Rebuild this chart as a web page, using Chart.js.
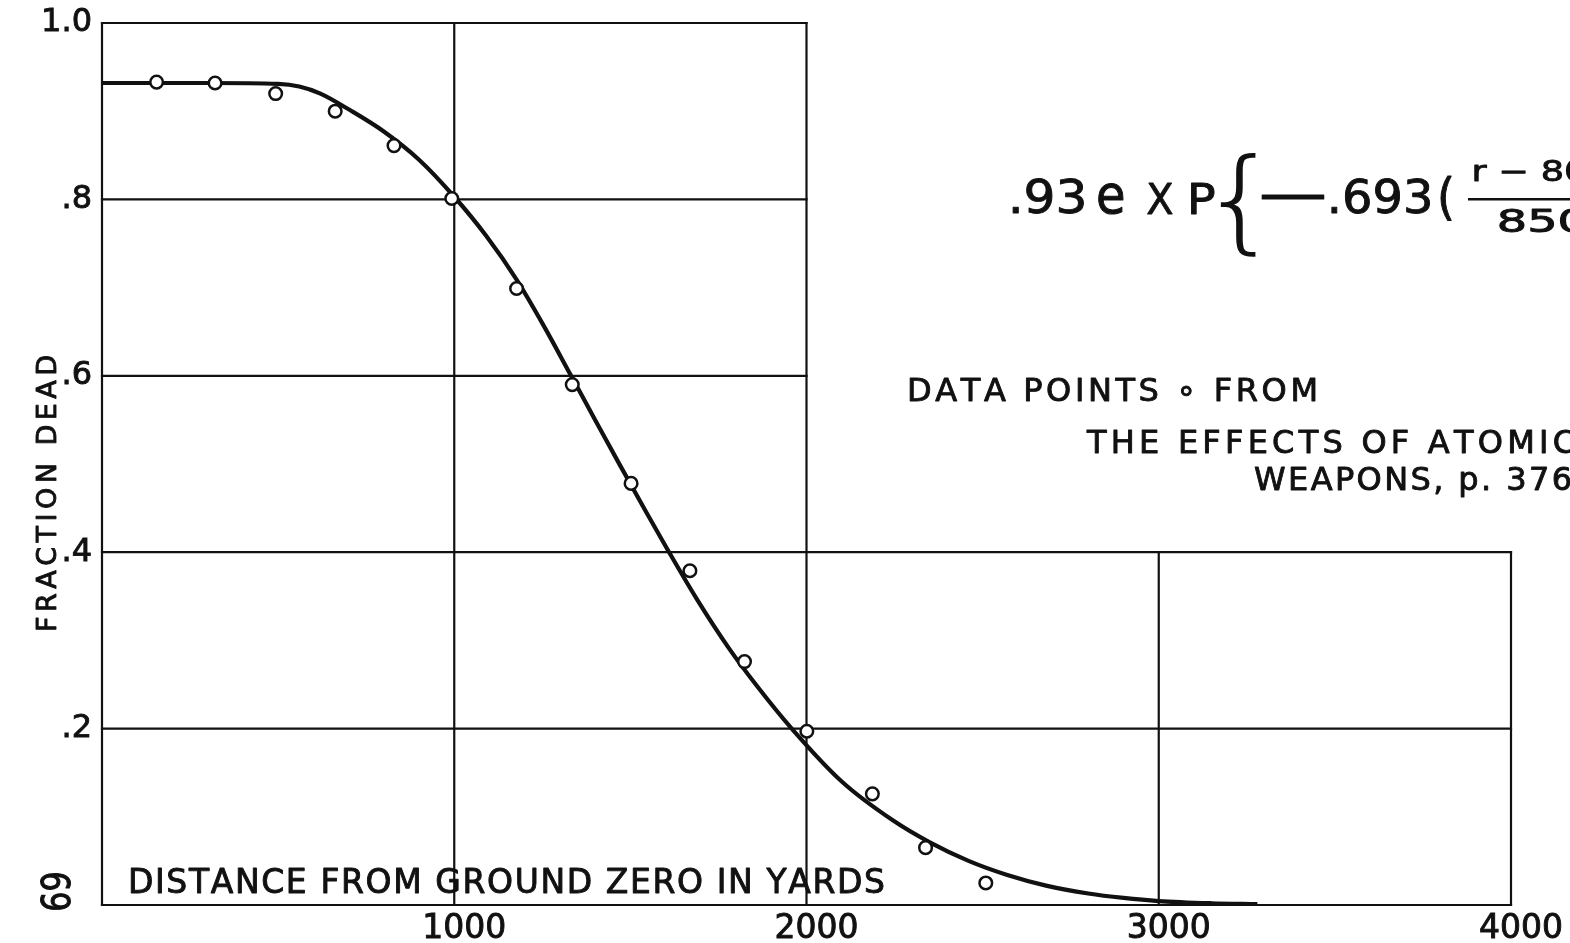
<!DOCTYPE html>
<html>
<head>
<meta charset="utf-8">
<script src="https://cdn.jsdelivr.net/npm/chart.js@4.4.1/dist/chart.umd.min.js"></script>
<style>
  html, body { margin: 0; padding: 0; background: #ffffff; }
  #wrap { width: 1570px; height: 943px; position: relative; }
</style>
</head>
<body>
<div id="wrap"><canvas id="c"></canvas></div>
<script>
// ---- data ----
const curveYards    = [0, 300, 500, 560, 620, 705, 800, 900, 1000, 1090, 1177, 1255, 1329, 1400, 1470, 1540, 1607, 1690, 1780, 1860, 1958, 2100, 2245, 2350, 2460, 2570, 2680, 2800, 2900, 3000, 3150, 3280];
const curveFraction = [0.932, 0.932, 0.931, 0.928, 0.920, 0.901, 0.877, 0.845, 0.803, 0.759, 0.709, 0.656, 0.602, 0.550, 0.499, 0.449, 0.402, 0.346, 0.291, 0.248, 0.200, 0.140, 0.096, 0.071, 0.050, 0.034, 0.022, 0.013, 0.008, 0.0045, 0.002, 0.001];

const pointYards    = [155, 321, 493, 662, 829, 993, 1177, 1335, 1502, 1669, 1824, 2001, 2187, 2338, 2509];
const pointFraction = [0.933, 0.932, 0.920, 0.900, 0.861, 0.801, 0.699, 0.590, 0.478, 0.379, 0.276, 0.197, 0.126, 0.065, 0.025];

const xTickLabels = ['', '1000', '2000', '3000', '4000'];
const yTickLabels = ['', '.2', '.4', '.6', '.8', '1.0'];

// grid segments as drawn on the original sheet: [value, from, to]
const gridRows = [[1.0, 0, 2000], [0.8, 0, 2000], [0.6, 0, 2000], [0.4, 0, 4000], [0.2, 0, 4000], [0, 0, 4000]];
const gridCols = [[0, 0, 1.0], [1000, 0, 1.0], [2000, 0, 1.0], [3000, 0, 0.4], [4000, 0, 0.4]];

const xAxisTitle = 'DISTANCE FROM GROUND ZERO IN YARDS';
const yAxisTitle = 'FRACTION DEAD';
const pageNumber = '69';
const noteLines = ['DATA POINTS \u2218 FROM', 'THE EFFECTS OF ATOMIC', 'WEAPONS, p. 376'];

const INK = '#111111';
const FONT = "'DejaVu Sans', 'Liberation Sans', sans-serif";

// ---- text helpers ----
function spread(ctx, text, x, y, width) {
  const chars = Array.from(text);
  const ws = chars.map(c => ctx.measureText(c).width);
  const nat = ws.reduce((a, b) => a + b, 0);
  const extra = chars.length > 1 ? (width - nat) / (chars.length - 1) : 0;
  let cx = x;
  chars.forEach((c, i) => {
    ctx.fillText(c, cx, y);
    ctx.strokeText(c, cx, y);
    cx += ws[i] + extra;
  });
}
function fitBox(ctx, text, left, top, width, height, noStroke) {
  const m = ctx.measureText(text);
  const gw = m.actualBoundingBoxLeft + m.actualBoundingBoxRight;
  const gh = m.actualBoundingBoxAscent + m.actualBoundingBoxDescent;
  ctx.save();
  ctx.translate(left, top);
  ctx.scale(width / gw, height / gh);
  ctx.fillText(text, m.actualBoundingBoxLeft, m.actualBoundingBoxAscent);
  if (!noStroke) ctx.strokeText(text, m.actualBoundingBoxLeft, m.actualBoundingBoxAscent);
  ctx.restore();
}

const gridPlugin = {
  id: 'sheetGrid',
  beforeDatasetsDraw(chart) {
    const { ctx, scales: { x, y } } = chart;
    ctx.save();
    ctx.strokeStyle = INK;
    ctx.lineWidth = 2.2;
    ctx.lineCap = 'square';
    gridRows.forEach(([v, a, b]) => {
      const py = y.getPixelForValue(v);
      ctx.beginPath();
      ctx.moveTo(x.getPixelForValue(a), py);
      ctx.lineTo(x.getPixelForValue(b), py);
      ctx.stroke();
    });
    gridCols.forEach(([v, a, b]) => {
      const px = x.getPixelForValue(v);
      ctx.beginPath();
      ctx.moveTo(px, y.getPixelForValue(a));
      ctx.lineTo(px, y.getPixelForValue(b));
      ctx.stroke();
    });
    ctx.restore();
  }
};

const textPlugin = {
  id: 'sheetText',
  afterDraw(chart) {
    const ctx = chart.ctx;
    ctx.save();
    ctx.fillStyle = INK;
    ctx.strokeStyle = INK;
    ctx.lineWidth = 0.9;
    ctx.lineJoin = 'round';
    ctx.textAlign = 'left';
    ctx.textBaseline = 'alphabetic';

    // x axis title, lettered inside the plot
    ctx.font = '33px ' + FONT;
    spread(ctx, xAxisTitle, 128, 893, 757);

    // y axis title, rotated
    ctx.save();
    ctx.translate(56, 632);
    ctx.rotate(-Math.PI / 2);
    ctx.font = '27px ' + FONT;
    spread(ctx, yAxisTitle, 0, 0, 277);
    ctx.restore();

    // page number (rotated)
    ctx.save();
    ctx.translate(42, 910);
    ctx.rotate(-Math.PI / 2);
    ctx.font = '36px ' + FONT;
    fitBox(ctx, pageNumber, 0, 0, 37, 29);
    ctx.restore();

    // formula
    ctx.font = '46px ' + FONT;
    fitBox(ctx, '.93', 1012, 178, 72, 36);
    fitBox(ctx, 'e', 1098, 183, 25, 31);
    fitBox(ctx, 'X', 1147, 183, 26, 31);
    fitBox(ctx, 'P', 1191, 183, 24, 31);
    ctx.font = '200 110px ' + FONT;
    fitBox(ctx, '{', 1220, 152, 36, 104, true);
    ctx.font = '46px ' + FONT;
    fitBox(ctx, '\u2014', 1262, 194, 62, 5);
    fitBox(ctx, '.693', 1331, 178, 99, 36);
    fitBox(ctx, '(', 1440, 176, 12, 46);
    ctx.font = '30px ' + FONT;
    fitBox(ctx, 'r \u2212 80', 1474, 160, 112, 21);
    ctx.fillRect(1468, 198, 110, 2.5);
    fitBox(ctx, '850', 1500, 209, 86, 23);

    // source note
    ctx.font = '32px ' + FONT;
    spread(ctx, noteLines[0], 907, 401, 411);
    spread(ctx, noteLines[1], 1087, 453, 488);
    spread(ctx, noteLines[2], 1254, 490, 318);

    ctx.restore();
  }
};

const ctx = document.getElementById('c').getContext('2d');
new Chart(ctx, {
  type: 'scatter',
  data: {
    datasets: [
      {
        type: 'line',
        label: 'fit',
        data: curveYards.map((v, i) => ({ x: v, y: curveFraction[i] })),
        borderColor: INK,
        borderWidth: 4.2,
        pointRadius: 0,
        fill: false,
        cubicInterpolationMode: 'monotone',
        order: 1
      },
      {
        type: 'scatter',
        label: 'data points',
        data: pointYards.map((v, i) => ({ x: v, y: pointFraction[i] })),
        pointStyle: 'circle',
        pointRadius: 6.3,
        pointBorderWidth: 2.5,
        pointBackgroundColor: '#ffffff',
        pointBorderColor: INK,
        showLine: false,
        order: 0
      }
    ]
  },
  options: {
    responsive: true,
    maintainAspectRatio: false,
    animation: false,
    layout: { padding: { top: 23, right: 59, bottom: 0, left: 0 } },
    plugins: { legend: { display: false }, tooltip: { enabled: false }, title: { display: false } },
    scales: {
      x: {
        type: 'linear',
        min: 0, max: 4000,
        grid: { display: false, drawTicks: true, tickLength: 5 },
        border: { display: false },
        ticks: {
          stepSize: 1000,
          color: INK,
          textStrokeColor: INK,
          textStrokeWidth: 0.9,
          font: { family: FONT, size: 33 },
          padding: 0,
          labelOffset: 10,
          maxRotation: 0,
          autoSkip: false,
          callback: (v, i) => xTickLabels[i]
        },
        afterFit: s => { s.height = 38; }
      },
      y: {
        type: 'linear',
        min: 0, max: 1,
        grid: { display: false, drawTicks: true, tickLength: 10 },
        border: { display: false },
        ticks: {
          stepSize: 0.2,
          color: INK,
          textStrokeColor: INK,
          textStrokeWidth: 0.9,
          font: { family: FONT, size: 32 },
          padding: 0,
          autoSkip: false,
          callback: (v, i) => yTickLabels[i]
        },
        afterFit: s => { s.width = 102; }
      }
    }
  },
  plugins: [gridPlugin, textPlugin]
});
</script>
</body>
</html>
